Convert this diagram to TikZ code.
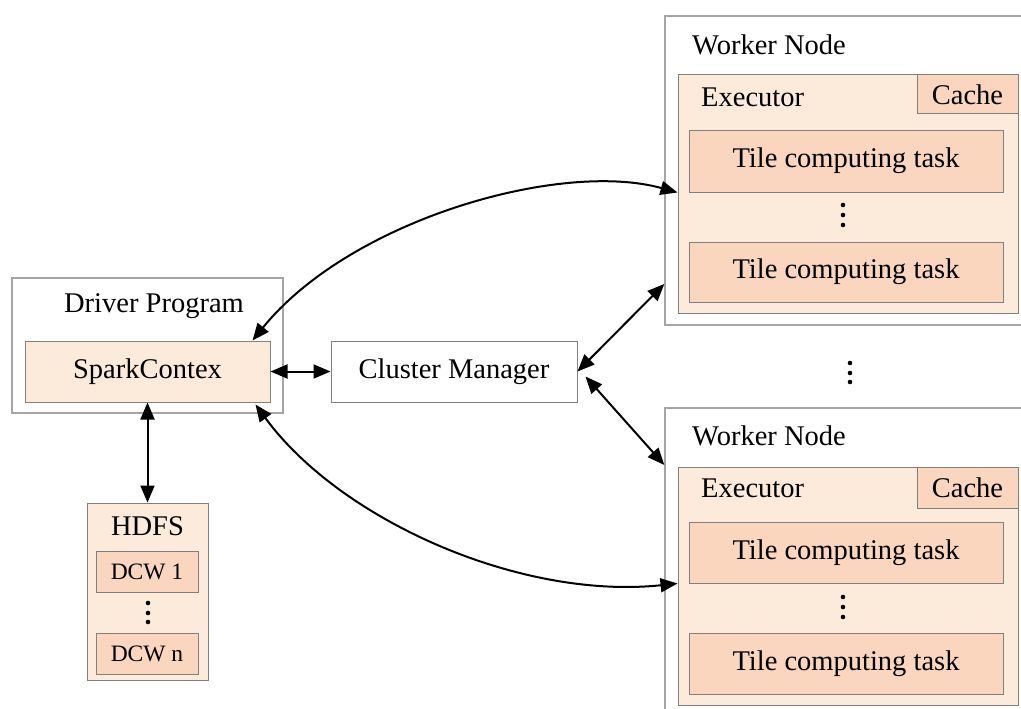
\documentclass[tikz,border=0pt]{standalone}
\usepackage{fontspec}
\setmainfont{Liberation Serif}
\usetikzlibrary{arrows.meta,calc}

\definecolor{paleorange}{RGB}{252,234,219}
\definecolor{taskorange}{RGB}{249,214,189}
\definecolor{boxline}{RGB}{128,128,128}
\definecolor{outerline}{RGB}{165,165,165}

\tikzset{
  panel/.style={draw=outerline, line width=1.3pt, fill=white, rectangle, inner sep=0pt},
  execbox/.style={draw=boxline, line width=1pt, fill=paleorange, rectangle, inner sep=0pt},
  taskbox/.style={draw=boxline, line width=1pt, fill=taskorange, rectangle, inner sep=0pt,
    font=\fontsize{28.5}{32}\selectfont},
  plainbox/.style={draw=boxline, line width=1pt, fill=white, rectangle, inner sep=0pt,
    font=\fontsize{28.5}{32}\selectfont},
  label/.style={inner sep=0pt, font=\fontsize{28.5}{32}\selectfont},
  smalllabel/.style={font=\fontsize{23.5}{27}\selectfont},
  link/.style={line width=2pt, {Triangle[length=17pt,width=14pt]}-{Triangle[length=17pt,width=14pt]}},
  dotmark/.style={fill=black, draw=none},
}

\begin{document}
\begin{tikzpicture}[x=1pt, y=-1pt]
\useasboundingbox (0,0) rectangle (1021,709);
\clip (0,0) rectangle (1021,709);

% ---------- Driver side ----------
\node[panel, minimum width=271pt, minimum height=135pt] (drv) at (147.5,345.5) {};
\node[label] (drvlabel) at (154,306) {Driver Program};
\node[execbox, minimum width=245pt, minimum height=61pt, font=\fontsize{28.5}{32}\selectfont] (spark) at (147.5,371.5) {SparkContex};

\node[plainbox, minimum width=246pt, minimum height=61pt] (cm) at (454,371.5) {Cluster Manager};

% ---------- HDFS ----------
\node[execbox, minimum width=121pt, minimum height=177pt] (hdfs) at (147.5,591.5) {};
\node[label] (hdfslabel) at (147.5,526) {HDFS};
\node[taskbox, smalllabel, minimum width=102pt, minimum height=41pt] (dcw1) at (147,571.5) {DCW 1};
\node[taskbox, smalllabel, minimum width=102pt, minimum height=41pt] (dcwn) at (147,653.5) {DCW n};
\foreach \yy in {603,613,622} \fill[dotmark] (148,\yy) circle (2.3pt);

% ---------- Upper worker ----------
\node[panel, minimum width=365pt, minimum height=309pt] (w1) at (847.5,170.5) {};
\node[label, anchor=west] (w1label) at (692,45) {Worker Node};
\node[execbox, minimum width=340pt, minimum height=238pt] (ex1) at (848,194) {};
\node[label, anchor=west] (ex1label) at (701,97) {Executor};
\node[taskbox, minimum width=101pt, minimum height=39pt] (cache1) at (967.5,94.5) {Cache};
\node[taskbox, minimum width=314pt, minimum height=62pt] (t11) at (846,161) {Tile computing task};
\node[taskbox, minimum width=314pt, minimum height=60pt] (t12) at (846,272) {Tile computing task};
\foreach \yy in {205,215,225} \fill[dotmark] (843,\yy) circle (2.3pt);

% ---------- Lower worker ----------
\node[panel, minimum width=365pt, minimum height=312pt] (w2) at (847.5,564) {};
\node[label, anchor=west] (w2label) at (692,436) {Worker Node};
\node[execbox, minimum width=340pt, minimum height=238pt] (ex2) at (848,586) {};
\node[label, anchor=west] (ex2label) at (701,488) {Executor};
\node[taskbox, minimum width=101pt, minimum height=41pt] (cache2) at (967.5,487.5) {Cache};
\node[taskbox, minimum width=314pt, minimum height=61pt] (t21) at (846,552.5) {Tile computing task};
\node[taskbox, minimum width=314pt, minimum height=61pt] (t22) at (846,663.5) {Tile computing task};
\foreach \yy in {597,607,617} \fill[dotmark] (843,\yy) circle (2.3pt);

% dots between the two workers
\foreach \yy in {363,373,382} \fill[dotmark] (850,\yy) circle (2.3pt);

% ---------- Connectors ----------
\coordinate (sparkNE) at ($(spark.north east)+(-18,0)$);
\coordinate (sparkSE) at ($(spark.south east)+(-15,2)$);
\coordinate (ex1in) at (ex1.west |- t11.south);
\coordinate (ex2in) at (ex2.west |- t21.south);
\coordinate (cmout) at ($(cm.east)+(0,0)$);
\coordinate (cmout2) at ($(cm.east)+(8,5)$);
\coordinate (w1in) at (w1.west |- 0,284);
\coordinate (w2in) at (w2.west |- 0,465);

\draw[link] (spark.east) -- (cm.west);
\draw[link] (spark.south) -- (hdfs.north);
\draw[link] (sparkNE) .. controls (350,220) and (560,160) .. (ex1in);
\draw[link] (sparkSE) .. controls (340,520) and (520,600) .. (ex2in);
\draw[link] (cmout) -- (w1in);
\draw[link] (cmout2) -- (w2in);
\end{tikzpicture}
\end{document}
